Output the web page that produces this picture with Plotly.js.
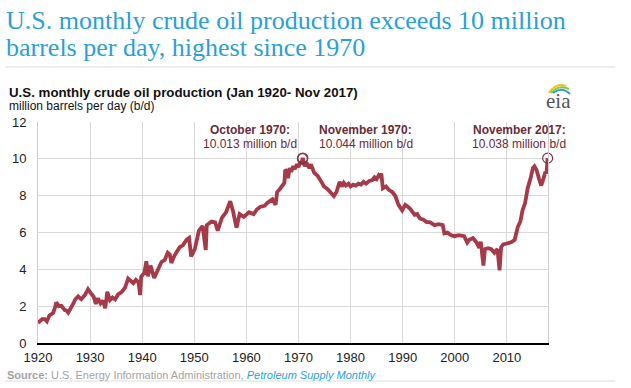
<!DOCTYPE html>
<html>
<head>
<meta charset="utf-8">
<script src="https://cdn.plot.ly/plotly-3.0.1.min.js"></script>
<style>
html,body{margin:0;padding:0;background:#fff;}
#chart{width:631px;height:388px;}
</style>
</head>
<body>
<div id="chart"></div>
<script>
// Decimal year of each reading
const years = [
1920.0,1920.4,1920.8,1921.3,1921.7,1922.2,1922.6,1922.9,1923.3,1923.5,
1924.0,1924.5,1925.1,1925.5,1925.8,1926.4,1926.8,1927.1,1927.7,1928.0,
1928.3,1929.0,1929.6,1930.1,1930.7,1931.1,1931.5,1932.0,1932.5,1932.9,
1933.3,1933.8,1934.3,1934.8,1935.4,1936.0,1936.7,1937.3,1937.8,1938.3,
1938.8,1939.3,1939.6,1939.8,1940.4,1940.8,1941.1,1941.6,1942.3,1942.9,
1943.7,1944.3,1944.9,1945.3,1945.6,1946.2,1947.2,1947.8,1948.5,1949.0,
1949.4,1950.1,1950.6,1950.9,1951.6,1952.2,1952.4,1953.3,1954.0,1954.5,
1955.3,1956.1,1956.9,1957.4,1958.1,1958.7,1959.5,1960.5,1961.4,1962.0,
1962.7,1963.5,1964.0,1965.0,1965.6,1965.9,1966.4,1966.8,1967.0,1967.3,
1967.45,1967.7,1968.0,1968.3,1968.6,1969.0,1969.3,1969.7,1970.0,1970.3,
1970.5,1970.75,1970.83,1971.2,1971.5,1972.1,1972.4,1973.0,1973.7,1974.3,
1974.9,1975.6,1976.2,1976.8,1977.3,1977.9,1978.3,1978.7,1979.1,1979.6,
1980.0,1980.5,1981.0,1981.5,1982.0,1982.5,1983.0,1983.6,1984.2,1984.6,
1985.0,1985.4,1985.7,1985.9,1986.2,1986.8,1987.4,1988.0,1988.6,1989.2,
1989.9,1990.5,1991.0,1991.4,1992.3,1992.8,1993.3,1994.0,1994.5,1995.3,
1996.1,1996.9,1997.7,1998.0,1998.6,1999.3,1999.9,2000.8,2001.8,2002.4,
2002.8,2003.5,2004.2,2004.7,2005.0,2005.5,2005.8,2006.4,2007.0,2007.6,
2008.2,2008.6,2008.9,2009.3,2010.0,2010.6,2011.0,2011.5,2012.1,2012.6,
2013.0,2013.5,2014.0,2014.6,2015.0,2015.3,2015.7,2016.2,2016.6,2017.0,
2017.4,2017.6,2017.83
];
// million barrels per day
const production = [
1.09,1.22,1.30,1.30,1.18,1.49,1.55,1.63,1.95,2.21,
2.00,2.02,1.80,1.75,1.65,1.90,2.15,2.35,2.53,2.45,
2.38,2.60,2.92,2.72,2.50,2.12,2.43,2.15,2.30,1.88,
2.78,2.33,2.47,2.36,2.65,2.75,3.00,3.50,3.40,3.25,
3.43,3.30,2.60,3.60,3.80,4.44,3.62,4.20,3.53,3.90,
4.40,4.50,4.90,4.80,4.35,4.75,5.20,5.30,5.60,5.70,
4.70,5.10,5.90,6.10,6.35,5.05,6.40,6.60,6.55,6.10,
6.80,7.10,7.70,7.20,6.26,7.00,6.85,7.10,7.00,7.25,
7.40,7.45,7.60,7.80,7.50,8.20,8.35,8.50,8.60,8.70,
9.40,9.35,8.95,9.50,9.30,9.60,9.45,9.70,9.55,9.85,
9.70,10.013,10.044,9.60,9.80,9.50,9.70,9.25,9.07,8.80,
8.50,8.35,8.16,7.98,8.20,8.75,8.50,8.70,8.55,8.65,
8.50,8.60,8.55,8.65,8.60,8.75,8.65,8.80,8.85,9.00,
8.90,9.10,9.00,9.20,8.40,8.50,8.30,8.20,7.98,7.50,
7.20,7.50,7.40,7.30,6.96,7.00,6.76,6.70,6.58,6.55,
6.40,6.45,6.40,5.95,6.00,5.85,5.80,5.85,5.80,5.45,
5.60,5.70,5.45,5.17,5.50,4.20,5.10,5.15,5.10,4.90,
5.10,3.95,5.20,5.35,5.40,5.45,5.50,5.60,6.30,6.60,
7.20,7.60,8.40,9.00,9.50,9.60,9.40,8.90,8.55,8.90,
9.30,9.20,10.038
];
const peakYears = [1970.75, 1970.83, 2017.83];
const peakValues = [10.013, 10.044, 10.038];
const peakLabels = ["October 1970:", "November 1970:", "November 2017:"];
const peakTexts = ["10.013 million b/d", "10.044 million b/d", "10.038 million b/d"];
const xTicks = [1920,1930,1940,1950,1960,1970,1980,1990,2000,2010];
const yTicks = [0,2,4,6,8,10,12];

// pixel -> paper helpers (plot area: x 38..548, y 122..343)
const PL = 38, PW = 510, PT = 122, PH = 221;
const px = x => (x - PL) / PW;
const py = y => (PT + PH - y) / PH;

const lineColor = '#a63a48';
const maroon = '#6b2a39';
const blue = '#2a9fd8';
const grayTxt = '#a3a3a3';

const annotations = [];
function txt(text, x, y, opts) {
  annotations.push(Object.assign({
    text: text, xref: 'paper', yref: 'paper', x: px(x), y: py(y),
    xanchor: 'left', yanchor: 'middle', showarrow: false,
    font: {family: 'Liberation Sans, Arial, sans-serif', size: 12, color: '#222'}
  }, opts || {}));
}
// title
txt('U.S. monthly crude oil production exceeds 10 million', 4, 20,
  {font: {family: 'Liberation Serif, Times New Roman, serif', size: 26, color: blue}});
txt('barrels per day, highest since 1970', 4, 47,
  {font: {family: 'Liberation Serif, Times New Roman, serif', size: 26, color: blue}});
// subtitle
txt('<b>U.S. monthly crude oil production (Jan 1920- Nov 2017)</b>', 7, 92,
  {font: {family: 'Liberation Sans, Arial, sans-serif', size: 13.3, color: '#111'}});
txt('million barrels per day (b/d)', 7, 106,
  {font: {family: 'Liberation Sans, Arial, sans-serif', size: 12, color: '#111'}});
// eia logo text
txt('eia', 558, 101, {xanchor: 'center',
  font: {family: 'Liberation Serif, Times New Roman, serif', size: 21, color: '#555'}});
// peak labels
const labelPos = [[250, 'center'], [317, 'left'], [519, 'center']];
for (let i = 0; i < 3; i++) {
  txt('<b>' + peakLabels[i] + '</b>', labelPos[i][0], 130,
    {xanchor: labelPos[i][1], font: {family: 'Liberation Sans, Arial, sans-serif', size: 12, color: maroon}});
  txt(peakTexts[i], labelPos[i][0], 144,
    {xanchor: labelPos[i][1], font: {family: 'Liberation Sans, Arial, sans-serif', size: 12, color: maroon}});
}
// source
txt('<b>Source:</b> U.S. Energy Information Administration, <i><span style="color:' + blue + '">Petroleum Supply Monthly</span></i>', 5, 375,
  {font: {family: 'Liberation Sans, Arial, sans-serif', size: 11, color: grayTxt}});

const shapes = [
  {type: 'line', xref: 'paper', yref: 'paper', x0: px(5), x1: px(615), y0: py(67), y1: py(67),
   line: {color: '#dcdcdc', width: 1}},
  {type: 'line', xref: 'paper', yref: 'paper', x0: px(5), x1: px(615), y0: py(381), y1: py(381),
   line: {color: '#dcdcdc', width: 1}},
  // eia arcs
  {type: 'path', xref: 'paper', yref: 'paper',
   path: `M ${px(549)} ${py(93)} Q ${px(556)} ${py(82)} ${px(566)} ${py(86)}`,
   line: {color: '#f2c318', width: 2}},
  {type: 'path', xref: 'paper', yref: 'paper',
   path: `M ${px(551)} ${py(93)} Q ${px(559)} ${py(84)} ${px(569)} ${py(89)}`,
   line: {color: '#8cc63f', width: 2}},
  {type: 'path', xref: 'paper', yref: 'paper',
   path: `M ${px(553)} ${py(93)} Q ${px(562)} ${py(86)} ${px(570)} ${py(94)}`,
   line: {color: '#2aa0d8', width: 2}}
];

const traces = [
  {x: years, y: production, type: 'scatter', mode: 'lines',
   line: {color: lineColor, width: 3.8}, hoverinfo: 'skip', cliponaxis: false},
  {x: peakYears, y: peakValues, type: 'scatter', mode: 'markers',
   marker: {size: 10, color: 'rgba(0,0,0,0)', line: {color: '#7a3444', width: 1.2}},
   hoverinfo: 'skip', cliponaxis: false}
];

const layout = {
  width: 631, height: 388,
  margin: {l: PL, r: 631 - PL - PW, t: PT, b: 388 - PT - PH, pad: 0},
  paper_bgcolor: '#fff', plot_bgcolor: '#fff',
  showlegend: false,
  xaxis: {range: [1920, 2017.9], tickvals: xTicks, ticktext: xTicks.map(String),
    showgrid: true, gridcolor: '#d9d9d9', gridwidth: 1, zeroline: false,
    showline: true, linecolor: '#000', linewidth: 1.5, ticks: '',
    ticklabelstandoff: 2,
    tickfont: {family: 'Liberation Sans, Arial, sans-serif', size: 13, color: '#222'}},
  yaxis: {range: [0, 12], tickvals: yTicks, showgrid: true, gridcolor: '#d9d9d9', gridwidth: 1,
    zeroline: false, showline: true, linecolor: '#cfcfcf', linewidth: 1, mirror: true, ticks: '',
    ticklabelstandoff: 8,
    tickfont: {family: 'Liberation Sans, Arial, sans-serif', size: 13, color: '#222'}},
  annotations: annotations,
  shapes: shapes
};

Plotly.newPlot('chart', traces, layout, {staticPlot: true, displayModeBar: false});
</script>
</body>
</html>
